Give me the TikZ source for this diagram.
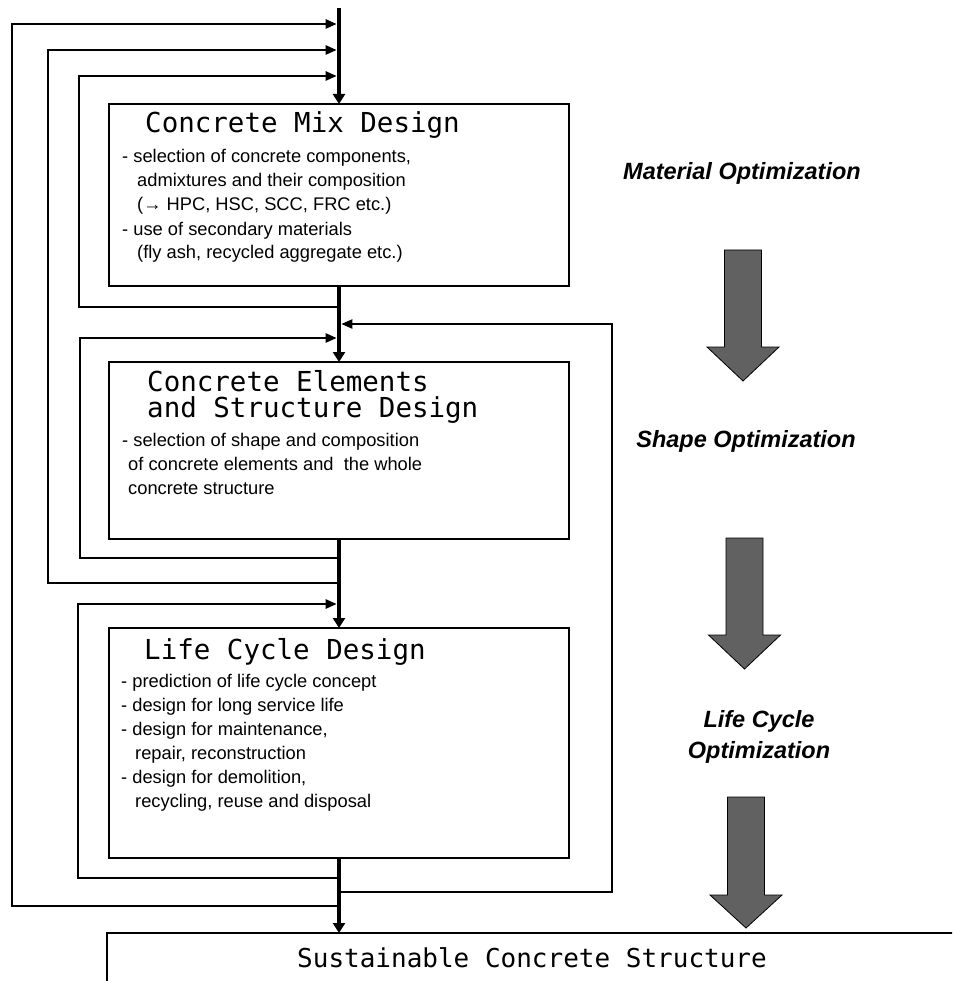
\documentclass[tikz,border=0pt]{standalone}
\usepackage{fontspec}
\setmainfont{Liberation Sans}
\newfontfamily\titlefont{DejaVu Sans Mono}
\usetikzlibrary{arrows.meta}

\begin{document}
\begin{tikzpicture}[x=1pt,y=-1pt,
  box/.style={draw,line width=1.8pt,anchor=north west,inner sep=0pt,outer sep=0pt},
  ttl/.style={font=\titlefont\fontsize{27.5}{26}\selectfont,inner sep=0pt,align=left,anchor=base west},
  sustxt/.style={font=\titlefont\fontsize{26}{26}\selectfont,inner sep=0pt,anchor=base west},
  body/.style={font=\fontsize{18.3}{24}\selectfont,inner sep=0pt,align=left,anchor=base west},
  opt/.style={font=\bfseries\itshape\fontsize{23.5}{31}\selectfont,inner sep=0pt,align=center,anchor=base},
  spine/.style={line width=4.5pt,-{Triangle[length=10pt,width=12pt]}},
  fb/.style={line width=2.4pt},
  fbarrow/.style={fb,-{Triangle[length=11pt,width=9pt]}},
  bigarrow/.style={fill=black!62,draw=black,line width=0.8pt,line join=miter}
]
\useasboundingbox (0,0) rectangle (952,981);
\fill[white] (0,0) rectangle (952,981);
\clip (0,0) rectangle (952,981);

% design stages
\node[box,minimum width=460pt,minimum height=182pt] (mix)  at (109,104) {};
\node[box,minimum width=460pt,minimum height=177pt] (elem) at (109,362) {};
\node[box,minimum width=460pt,minimum height=230pt] (life) at (109,628) {};
\node[box,minimum width=900pt,minimum height=120pt] (sus)  at (107,933) {};

% stage titles (multi-line nodes are placed by the baseline of their last line)
\node[ttl] (mixT)  at (145,133) {Concrete Mix Design};
\node[ttl] (elemT) at (147,417) {Concrete Elements\\and Structure Design};
\node[ttl] (lifeT) at (144,659) {Life Cycle Design};
\node[sustxt] (susT) at (297,967) {Sustainable Concrete Structure};

% stage contents
\node[body] (mixB) at (122,259) {- selection of concrete components,\\
  \hspace*{15pt}admixtures and their composition\\
  \hspace*{15pt}(→ HPC, HSC, SCC, FRC etc.)\\
  - use of secondary materials\\
  \hspace*{15pt}(fly ash, recycled aggregate etc.)};
\node[body] (elemB) at (122,494) {- selection of shape and composition\\
  \hspace*{6pt}of concrete elements and \ the whole\\
  \hspace*{6pt}concrete structure};
\node[body] (lifeB) at (121,807) {- prediction of life cycle concept\\
  - design for long service life\\
  - design for maintenance,\\
  \hspace*{14pt}repair, reconstruction\\
  - design for demolition,\\
  \hspace*{14pt}recycling, reuse and disposal};

% main flow
\coordinate (top) at (339,8);
\coordinate (susIn) at (life.south |- sus.north);
\draw[spine] (top) -- (mix.north);
\draw[spine] (mix.south) -- (elem.north);
\draw[spine] (elem.south) -- (life.north);
\draw[spine] (life.south) -- (susIn);

% feedback loops on the left
\coordinate (aOut) at (339,906); \coordinate (aIn) at (336.7,24);
\coordinate (bOut) at (339,583); \coordinate (bIn) at (336.7,50);
\coordinate (cOut) at (339,307); \coordinate (cIn) at (336.7,76);
\coordinate (dOut) at (339,558); \coordinate (dIn) at (336.7,338);
\coordinate (eOut) at (339,878); \coordinate (eIn) at (336.7,604);
\draw[fbarrow] (aOut) -| (12,24) -- (aIn);
\draw[fbarrow] (bOut) -| (48,50) -- (bIn);
\draw[fbarrow] (cOut) -| (79,76) -- (cIn);
\draw[fbarrow] (dOut) -| (80,338) -- (dIn);
\draw[fbarrow] (eOut) -| (78,604) -- (eIn);

% feedback loop on the right
\coordinate (rOut) at (339,892); \coordinate (rIn) at (341.3,324);
\draw[fbarrow,line width=2pt] (rOut) -| (612,324) -- (rIn);

% optimization levels
\node[opt] (matOpt)   at (742,180) {Material Optimization};
\node[opt] (shapeOpt) at (746,447) {Shape Optimization};
\node[opt] (lifeOpt)  at (759,758) {Life Cycle\\Optimization};

\filldraw[bigarrow] (743-18.5,250) -- (743+18.5,250) -- (743+18.5,347) -- (743+36,347)
  -- (743,381) -- (743-36,347) -- (743-18.5,347) -- cycle;
\filldraw[bigarrow] (744.5-18.5,538) -- (744.5+18.5,538) -- (744.5+18.5,635) -- (744.5+36,635)
  -- (744.5,669) -- (744.5-36,635) -- (744.5-18.5,635) -- cycle;
\filldraw[bigarrow] (746-18.5,797) -- (746+18.5,797) -- (746+18.5,895) -- (746+36,895)
  -- (746,928) -- (746-36,895) -- (746-18.5,895) -- cycle;
\end{tikzpicture}
\end{document}
